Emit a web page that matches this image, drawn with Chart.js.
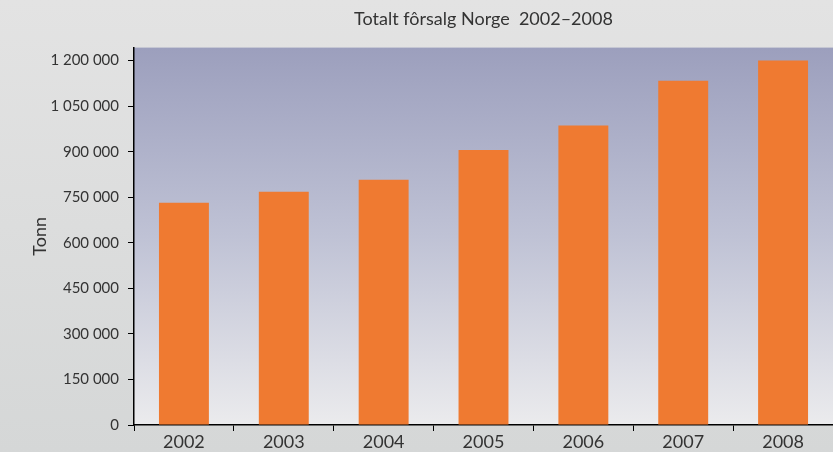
<!DOCTYPE html>
<html>
<head>
<meta charset="utf-8">
<script src="https://cdn.jsdelivr.net/npm/chart.js@4"></script>
<style>
  html, body { margin: 0; padding: 0; }
  body { width: 833px; height: 452px; overflow: hidden; background: linear-gradient(#e3e3e3, #d5d7d7); }
  #wrap { width: 833px; height: 452px; position: relative; }
</style>
</head>
<body>
<div id="wrap"><canvas id="forsalg"></canvas></div>
<script>
const aar = ['2002', '2003', '2004', '2005', '2006', '2007', '2008'];
const tonn = [732000, 768000, 808000, 906000, 986000, 1134000, 1200000];
const yTicks = [0, 150000, 300000, 450000, 600000, 750000, 900000, 1050000, 1200000];

const mellomrom = (v) => String(v).replace(/\B(?=(\d{3})+(?!\d))/g, ' ');

// bakgrunn i plottområdet
const plotBakgrunn = {
    id: 'plotBakgrunn',
    beforeDraw: (chart) => {
        const { ctx, chartArea: a } = chart;
        const g = ctx.createLinearGradient(0, a.top, 0, a.bottom);
        g.addColorStop(0, '#9c9fbd');
        g.addColorStop(0.5, '#bfc2d5');
        g.addColorStop(1, '#ebebed');
        ctx.save();
        ctx.fillStyle = g;
        ctx.fillRect(a.left, a.top, a.right - a.left, a.bottom - a.top);
        ctx.restore();
    }
};

const config = {
    type: 'bar',
    data: {
        labels: aar,
        datasets: [{
            data: tonn,
            backgroundColor: '#ef7a31',
            categoryPercentage: 1,
            barPercentage: 0.5
        }]
    },
    options: {
        responsive: true,
        maintainAspectRatio: false,
        animation: false,
        layout: { padding: { left: 0, right: 0, top: 0, bottom: 0 } },
        plugins: {
            legend: { display: false },
            tooltip: { enabled: false },
            title: {
                display: true,
                fullSize: false,
                text: 'Totalt fôrsalg Norge  2002–2008',
                color: '#333',
                font: { family: 'Lato', size: 18, weight: 'normal' },
                padding: { top: 8, bottom: 18 }
            }
        },
        scales: {
            x: {
                grid: { display: true, drawOnChartArea: false, offset: true, color: '#000', tickLength: 6 },
                border: { display: true, color: '#000', width: 1.5 },
                ticks: { color: '#333', font: { family: 'Lato', size: 18 }, padding: 0 },
                afterFit: (s) => { s.height = 27; }
            },
            y: {
                min: 0,
                max: 1242857,
                afterBuildTicks: (s) => { s.ticks = yTicks.map(v => ({ value: v })); },
                grid: { display: true, drawOnChartArea: false, color: '#000', tickLength: 6 },
                border: { display: true, color: '#000', width: 1.5 },
                ticks: {
                    color: '#333',
                    font: { family: 'Lato', size: 15 },
                    padding: 9,
                    callback: (v) => mellomrom(v)
                },
                title: {
                    display: true,
                    text: 'Tonn',
                    color: '#333',
                    font: { family: 'Lato', size: 18 },
                    padding: { top: 29, bottom: 0 }
                },
                afterFit: (s) => { s.width = 134; }
            }
        }
    },
    plugins: [plotBakgrunn]
};

new Chart(document.getElementById('forsalg'), config);
</script>
</body>
</html>
